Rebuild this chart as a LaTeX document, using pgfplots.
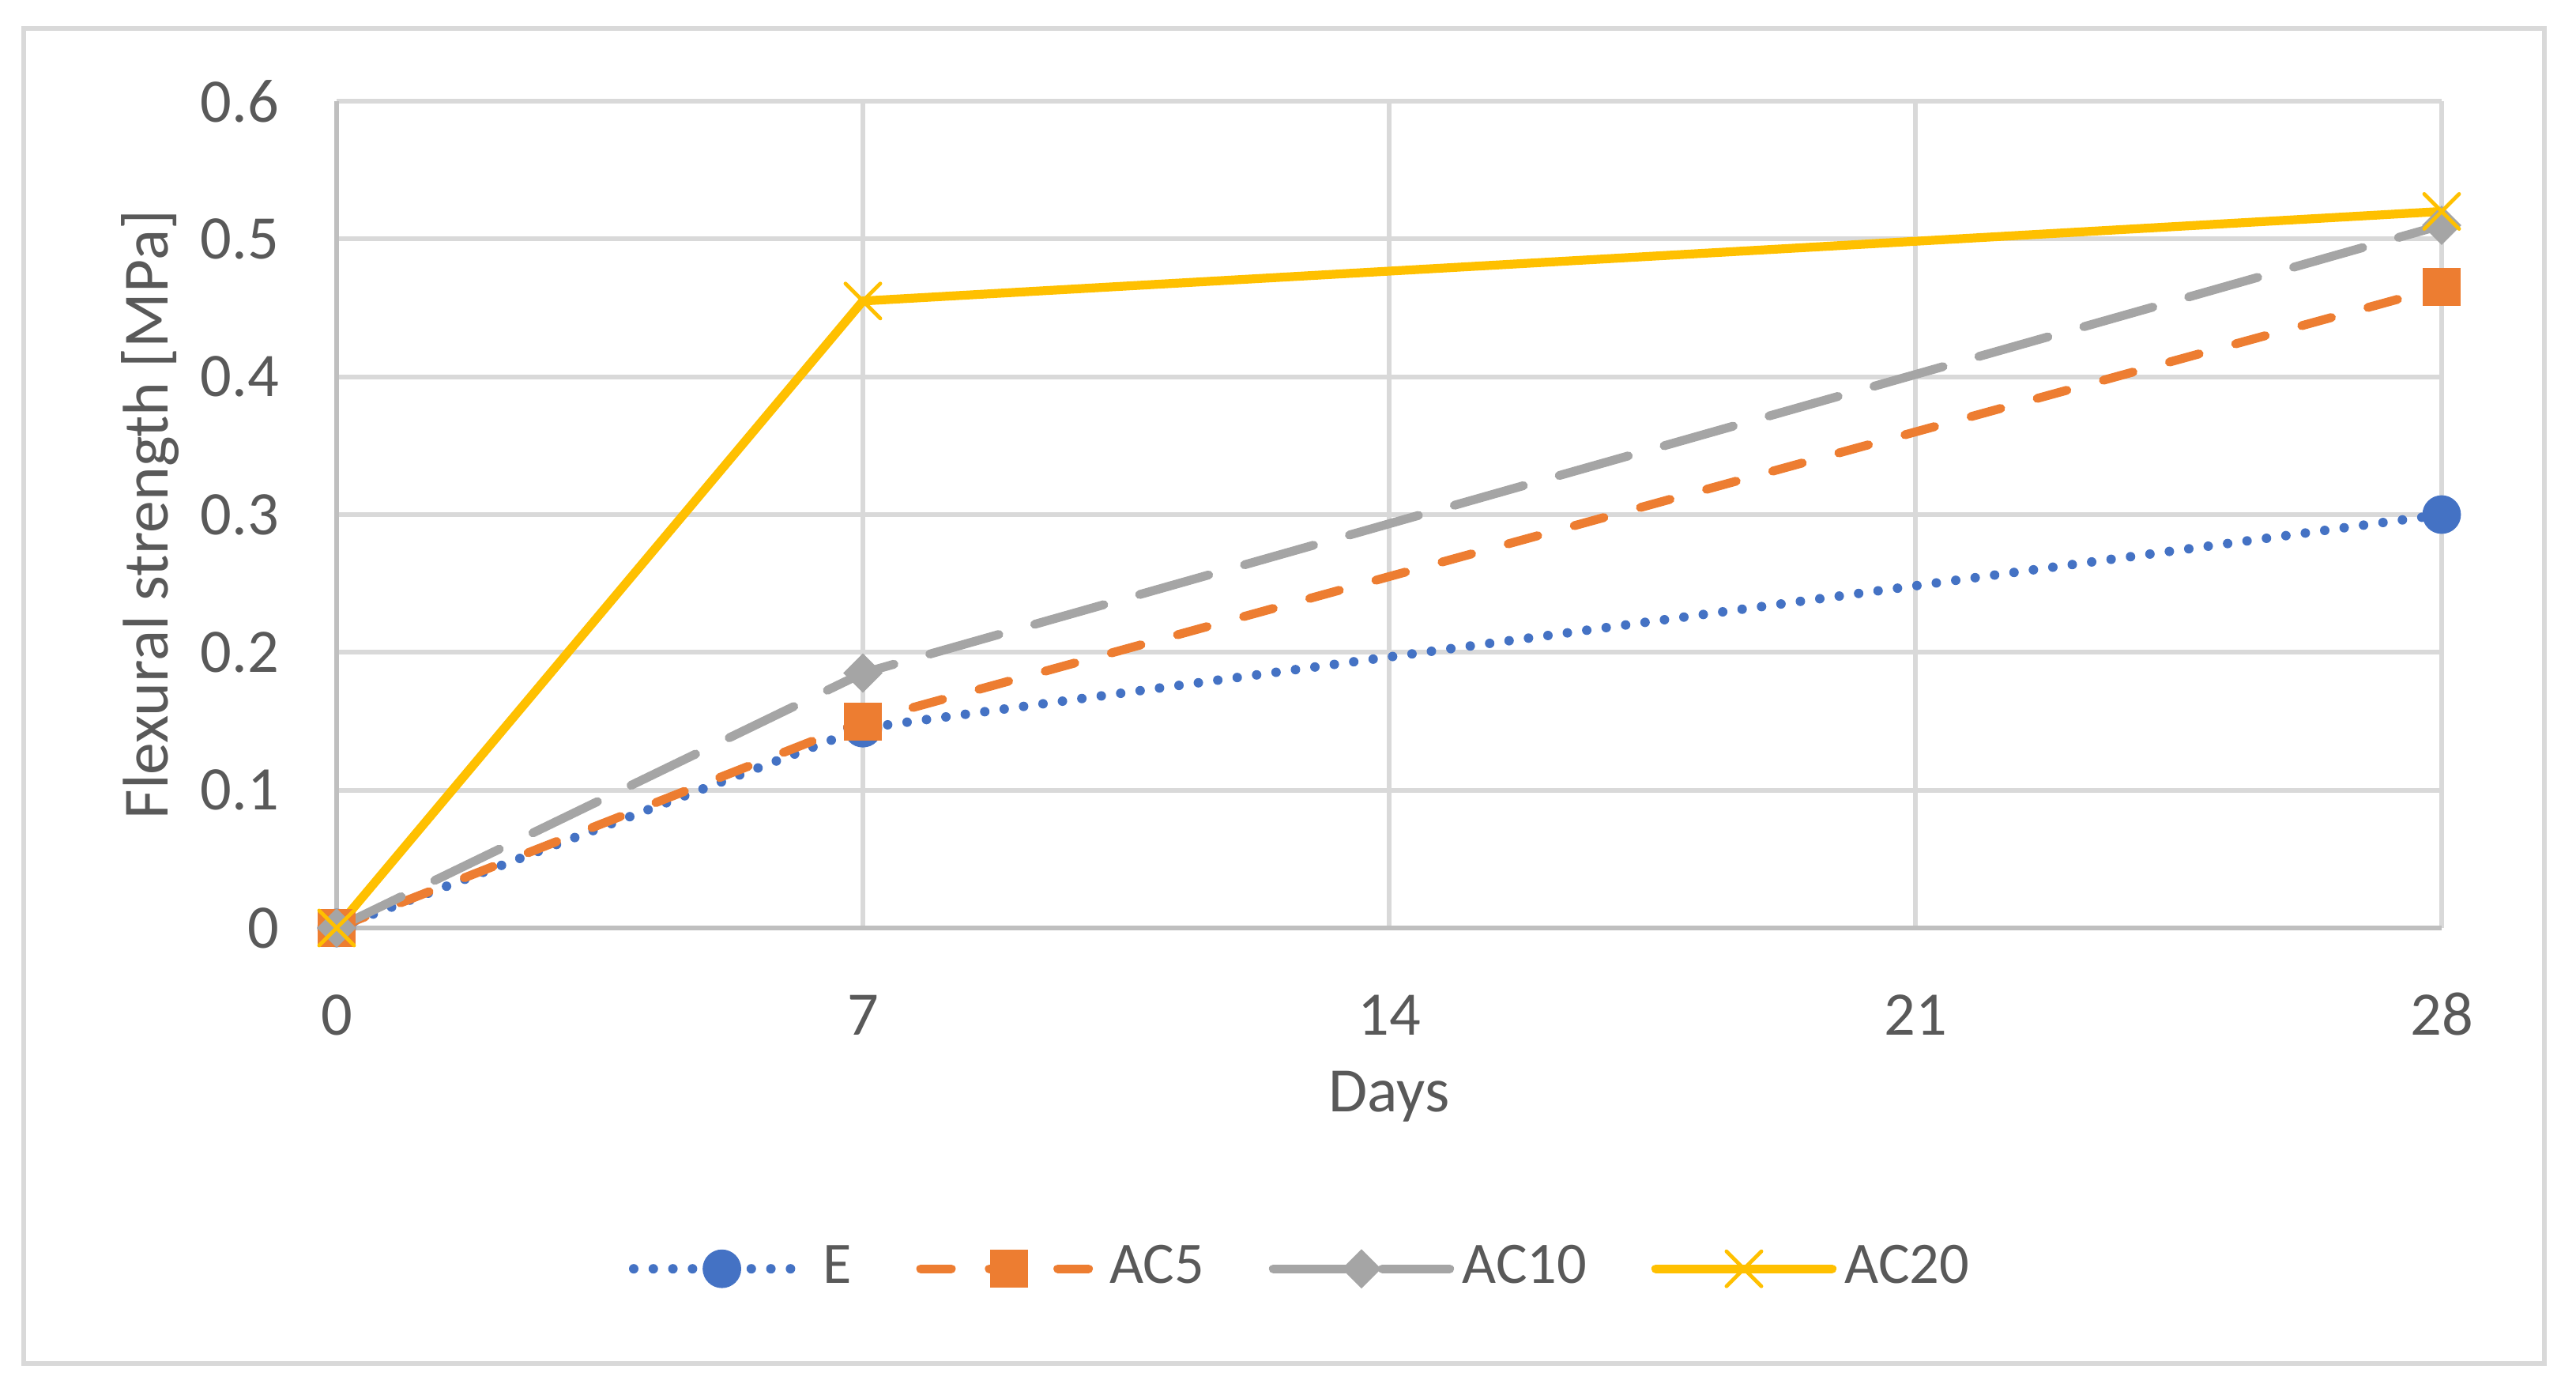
\documentclass[border=0pt]{standalone}
\usepackage{pgfplots}
\pgfplotsset{compat=1.18}
\usepackage{fontspec}
\setmainfont{Carlito}
\definecolor{cE}{HTML}{4472C4}
\definecolor{cAa}{HTML}{ED7D31}
\definecolor{cAb}{HTML}{A5A5A5}
\definecolor{cAc}{HTML}{FFC000}
\definecolor{gridc}{HTML}{D9D9D9}
\definecolor{axisc}{HTML}{BFBFBF}
\definecolor{txt}{HTML}{595959}
\newcommand{\cfont}{\fontsize{9.8}{11.8}\selectfont}
\begin{document}
\begin{tikzpicture}
\path (0,0) rectangle (407.5pt,219.5pt);
\draw[gridc, line width=0.75pt] (3.75pt,3.9pt) rectangle (402.5pt,215pt);
\begin{axis}[
  at={(53.25pt,72.75pt)}, anchor=south west,
  scale only axis, width=333pt, height=130.75pt,
  xmin=0, xmax=28, ymin=0, ymax=0.6,
  xtick={0,7,14,21,28}, xticklabels={0,7,14,21,28},
  ytick={0,0.1,0.2,0.3,0.4,0.5,0.6},
  yticklabels={0,0.1,0.2,0.3,0.4,0.5,0.6},
  grid=major, major grid style={gridc, line width=0.75pt},
  axis lines=left, axis line style={axisc, line width=0.75pt, -},
  major tick length=0pt,
  tick label style={font=\cfont, text=txt},
  xticklabel style={anchor=base, inner sep=0pt, yshift=-17pt},
  yticklabel style={anchor=east, inner sep=0pt, xshift=-8.9pt},
  xlabel={Days},
  xlabel style={font=\fontsize{10}{12}\selectfont, text=txt, at={([yshift=-29.1pt]axis description cs:0.5,0)}, anchor=base, inner sep=0pt},
  ylabel={Flexural strength [MPa]},
  ylabel style={font=\fontsize{10.2}{12}\selectfont, text=txt, at={([xshift=-29.5pt]axis description cs:0,0.5)}, anchor=center, inner sep=0pt},
  clip=false,
  legend columns=4,
  legend cell align=left,
  legend style={at={([xshift=46.25pt,yshift=-53.9pt]axis description cs:0,0)}, anchor=west,
    draw=none, fill=none, inner sep=0pt, outer sep=0pt, font=\fontsize{9.3}{11}\selectfont, text=txt,
    nodes={inner sep=0pt},
    /tikz/every odd column/.append style={column sep=1.3pt},
    /tikz/every even column/.append style={column sep=10.2pt}},
  legend image code/.code={\draw[mark repeat=2,mark phase=2,#1] plot coordinates {(0pt,0pt) (13.95pt,0pt) (27.9pt,0pt)};},
]
\addplot[cE, line width=1.5pt, line cap=round, dash pattern=on 0pt off 3.1pt,
  mark=*, mark size=2.8pt, mark options={solid, fill=cE, draw=cE, line width=0.5pt}]
  coordinates {(0,0) (7,0.145) (28,0.300)};
\addlegendentry{E}
\addplot[cAa, line width=1.4pt, line cap=round, dash pattern=on 4.85pt off 6pt,
  mark=square*, mark size=2.75pt, mark options={solid, fill=cAa, draw=cAa, line width=0.5pt}]
  coordinates {(0,0) (7,0.150) (28,0.465)};
\addlegendentry{AC5}
\addplot[cAb, line width=1.4pt, line cap=round, dash pattern=on 11.35pt off 5.9pt,
  mark=square*, mark size=1.95pt, mark options={solid, rotate=45, fill=cAb, draw=cAb, line width=0.5pt}]
  coordinates {(0,0) (7,0.185) (28,0.510)};
\addlegendentry{AC10}
\addplot[cAc, line width=1.4pt, line cap=round,
  mark=x, mark size=3.9pt, mark options={solid, draw=cAc, line width=0.6pt}]
  coordinates {(0,0) (7,0.455) (28,0.520)};
\addlegendentry{AC20}
\end{axis}
\end{tikzpicture}
\end{document}
